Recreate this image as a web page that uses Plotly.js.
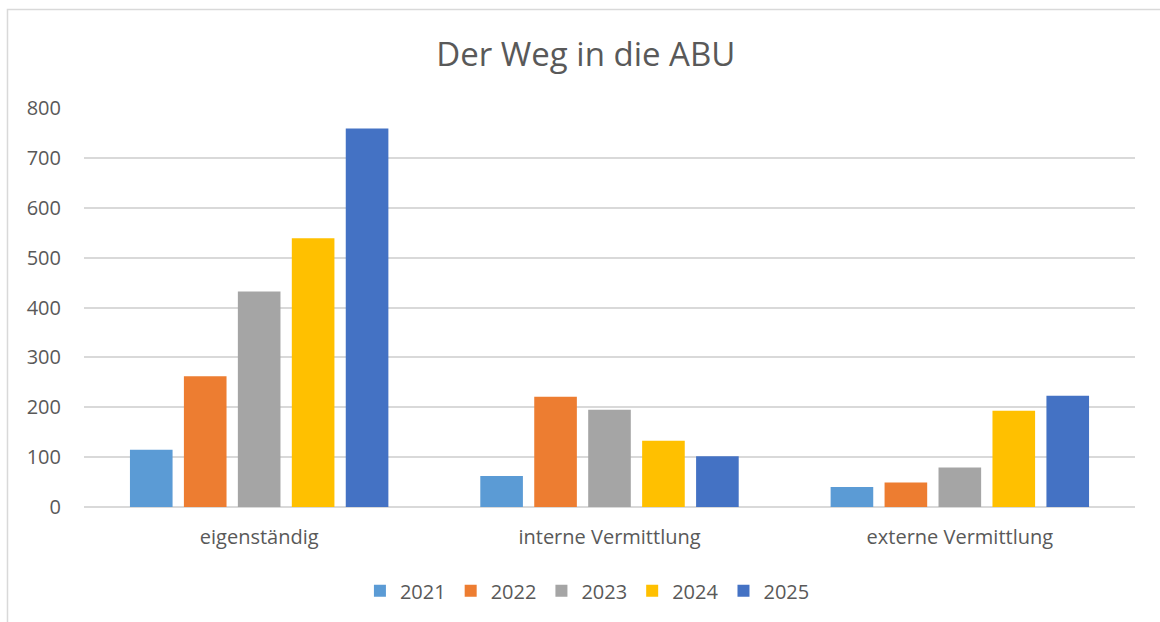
<!DOCTYPE html>
<html>
<head>
<meta charset="utf-8">
<script src="https://cdn.plot.ly/plotly-3.0.1.min.js"></script>
<style>
  body { margin: 0; background: #fff; }
  #chart { width: 1160px; height: 622px; }
</style>
</head>
<body>
<div id="chart"></div>
<script>
// categories and yearly values
var categories = ["eigenständig", "interne Vermittlung", "externe Vermittlung"];
var years = ["2021", "2022", "2023", "2024", "2025"];
var colors = ["#5b9bd5", "#ed7d31", "#a5a5a5", "#ffc000", "#4472c4"];

var v2021 = [115, 62, 40];
var v2022 = [262, 221, 49];
var v2023 = [432, 195, 79];
var v2024 = [539, 133, 193];
var v2025 = [759, 102, 223];
var series = [v2021, v2022, v2023, v2024, v2025];

var yTicks = [0, 100, 200, 300, 400, 500, 600, 700, 800];

var font = "'Open Sans', 'Noto Sans', sans-serif";
var grey = "#595959";

var data = years.map(function (yr, i) {
  return {
    x: categories,
    y: series[i],
    name: yr,
    type: "bar",
    marker: {color: colors[i]},
    hoverinfo: "x+y+name"
  };
});

var layout = {
  width: 1160,
  height: 622,
  margin: {l: 84, r: 25, t: 108, b: 115},
  paper_bgcolor: "#fff",
  plot_bgcolor: "#fff",
  font: {family: font, color: grey, size: 20},
  title: {
    text: "Der Weg in die ABU",
    font: {family: font, size: 33, color: grey},
    x: 0.505, xanchor: "center",
    y: 0.912, yanchor: "middle"
  },
  barmode: "group",
  bargap: 0.23,
  bargroupgap: 0.21,
  xaxis: {
    showgrid: false,
    showline: false,
    ticks: "",
    ticklabelstandoff: 16,
    tickfont: {size: 20, color: grey}
  },
  yaxis: {
    range: [0, 800],
    tickvals: yTicks,
    gridcolor: "#d9d9d9",
    gridwidth: 1.5,
    zeroline: true,
    zerolinecolor: "#d9d9d9",
    zerolinewidth: 1.5,
    showline: false,
    ticks: "",
    ticklabelstandoff: 22,
    tickfont: {size: 20, color: grey}
  },
  showlegend: true,
  legend: {
    orientation: "h",
    x: 0.479, xanchor: "center",
    y: -0.21, yanchor: "middle",
    font: {size: 20, color: grey},
    itemwidth: 30,
    traceorder: "normal"
  },
  shapes: [{
    type: "rect",
    xref: "paper", yref: "paper",
    x0: -0.0728, x1: 1.04,
    y0: -0.32, y1: 1.2469,
    line: {color: "#d9d9d9", width: 1.5},
    fillcolor: "rgba(0,0,0,0)",
    layer: "below"
  }]
};

Plotly.newPlot("chart", data, layout, {displayModeBar: false});
</script>
</body>
</html>
